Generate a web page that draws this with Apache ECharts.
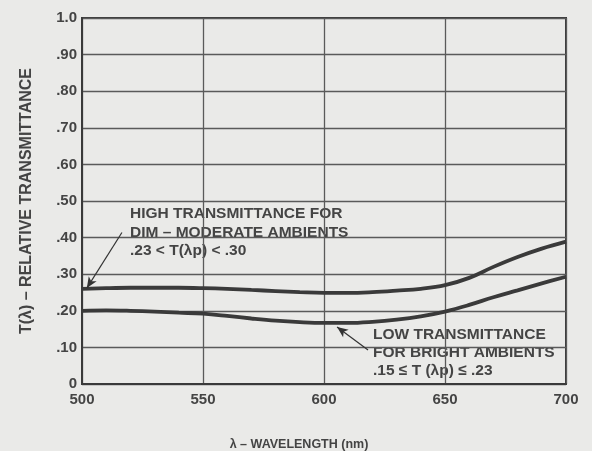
<!DOCTYPE html>
<html>
<head>
<meta charset="utf-8">
<script src="https://cdn.jsdelivr.net/npm/echarts@6/dist/echarts.min.js"></script>
<style>
html,body{margin:0;padding:0;background:#eaeae8;}
#chart{width:592px;height:451px;}
</style>
</head>
<body>
<div id="chart"></div>
<script>
// Data
var wavelengths = [500,510,520,530,540,550,560,570,580,590,600,610,620,630,640,650,660,670,680,690,700];
var highT = [0.260,0.262,0.263,0.263,0.263,0.262,0.260,0.257,0.254,0.251,0.249,0.249,0.251,0.255,0.260,0.270,0.290,0.320,0.347,0.370,0.389];
var lowT  = [0.200,0.201,0.200,0.198,0.195,0.192,0.186,0.179,0.173,0.169,0.167,0.167,0.170,0.176,0.185,0.198,0.216,0.237,0.256,0.275,0.293];
var yTickLabels = ['0','.10','.20','.30','.40','.50','.60','.70','.80','.90','1.0'];
var xTickLabels = ['500','550','600','650','700'];
var highNote = ['HIGH TRANSMITTANCE FOR','DIM \u2013 MODERATE AMBIENTS','.23 < T(\u03bbp) < .30'];
var lowNote = ['LOW TRANSMITTANCE','FOR BRIGHT AMBIENTS','.15 \u2264 T (\u03bbp) \u2264 .23'];
var highArrow = [[516.5, 0.414],[502, 0.262]];
var lowArrow = [[618.2, 0.093],[605.4, 0.156]];

function pairs(xs, ys){ return xs.map(function(x,i){ return [x, ys[i]]; }); }

var chart = echarts.init(document.getElementById('chart'), null, {renderer:'canvas'});
var ink = '#3a3a3a';
var labelFont = {color:'#444', fontFamily:'Liberation Sans, Arial, sans-serif', fontWeight:'bold', fontSize:15};
var noteFont = 'bold 15.5px "Liberation Sans", Arial, sans-serif';

var graphics = [];
highNote.forEach(function(t,i){
  graphics.push({type:'text', left:130, top:206 + i*18.5, style:{text:t, fill:'#444', font:noteFont}});
});
lowNote.forEach(function(t,i){
  graphics.push({type:'text', left:373, top:327 + i*18, style:{text:t, fill:'#444', font:noteFont}});
});

function arrowLine(a){
  return [{coord:a[0], symbol:'none'},{coord:a[1], symbol:'arrow'}];
}

chart.setOption({
  backgroundColor:'#eaeae8',
  animation:false,
  grid:{left:82, right:26, top:18, bottom:67, outerBoundsMode:'none', containLabel:false, show:true, borderColor:'#3a3a3a', borderWidth:2},
  xAxis:{
    type:'value', min:500, max:700, interval:50,
    name:'\u03bb \u2013 WAVELENGTH (nm)', nameLocation:'middle', nameGap:54,
    nameTextStyle:{color:'#444', fontFamily:'Liberation Sans, Arial, sans-serif', fontWeight:'bold', fontSize:12.5, padding:[0,50,0,0]},
    axisLine:{show:true, lineStyle:{color:'#3a3a3a', width:2}},
    axisTick:{show:false},
    axisLabel:Object.assign({margin:8, formatter:function(v){ var i = xTickLabels.indexOf(String(v)); return i>=0 ? xTickLabels[i] : ''; }}, labelFont),
    splitLine:{show:true, lineStyle:{color:'#5a5a5a', width:1.3}}
  },
  yAxis:{
    type:'value', min:0, max:1, interval:0.1,
    name:'T(\u03bb) \u2013 RELATIVE TRANSMITTANCE', nameLocation:'middle', nameGap:47, nameRotate:90,
    nameTextStyle:{color:'#444', fontFamily:'Liberation Sans, Arial, sans-serif', fontWeight:'bold', fontSize:16},
    axisLine:{show:true, lineStyle:{color:'#3a3a3a', width:2}},
    axisTick:{show:false},
    axisLabel:Object.assign({margin:5, formatter:function(v){ return yTickLabels[Math.round(v*10)]; }}, labelFont),
    splitLine:{show:true, lineStyle:{color:'#5a5a5a', width:1.3}}
  },
  series:[
    {type:'line', data:pairs(wavelengths, highT), smooth:0.4, showSymbol:false,
     lineStyle:{color:ink, width:3.8},
     markLine:{silent:true, symbolSize:[7,11], label:{show:false},
       lineStyle:{color:'#333', width:1.2, type:'solid'},
       data:[arrowLine(highArrow), arrowLine(lowArrow)]}},
    {type:'line', data:pairs(wavelengths, lowT), smooth:0.4, showSymbol:false,
     lineStyle:{color:ink, width:3.8}}
  ],
  graphic:graphics
});
</script>
</body>
</html>
